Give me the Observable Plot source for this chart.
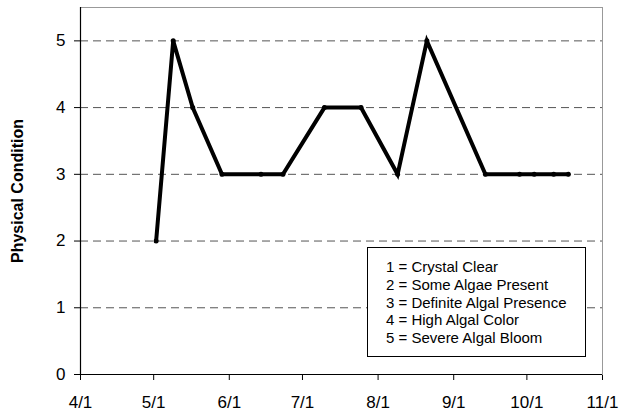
<!DOCTYPE html>
<html>
<head>
<meta charset="utf-8">
<script src="https://cdn.jsdelivr.net/npm/d3@7"></script>
<script src="https://cdn.jsdelivr.net/npm/@observablehq/plot@0.6"></script>
<style>
  html, body { margin: 0; padding: 0; background: #fff; }
  #wrap { position: relative; width: 636px; height: 414px; font-family: "Liberation Sans", Arial, sans-serif; }
  #legend {
    position: absolute; left: 367px; top: 247px; width: 219px; height: 110px;
    box-sizing: border-box; border: 1.5px solid #000; background: #fff;
    padding: 10px 0 0 18px; font-size: 15px; line-height: 17.8px; color: #000;
  }
</style>
</head>
<body>
<div id="wrap"><div id="legend"></div></div>
<script>
// Sample dates (year arbitrary) and physical condition ratings
const dates = ["2005-05-02","2005-05-09","2005-05-17","2005-05-29","2005-06-14","2005-06-23",
               "2005-07-10","2005-07-25","2005-08-09","2005-08-21","2005-09-14","2005-09-28",
               "2005-10-04","2005-10-12","2005-10-18"];
const condition = [2, 5, 4, 3, 3, 3, 4, 4, 3, 5, 3, 3, 3, 3, 3];
const xTicks = ["2005-04-01","2005-05-01","2005-06-01","2005-07-01","2005-08-01","2005-09-01","2005-10-01","2005-11-01"];
const yTicks = [0, 1, 2, 3, 4, 5];
const gridValues = [1, 2, 3, 4, 5];
const yMax = 5.5;
const yTitle = "Physical Condition";
const legendLines = ["1 = Crystal Clear", "2 = Some Algae Present", "3 = Definite Algal Presence",
                     "4 = High Algal Color", "5 = Severe Algal Bloom"];

const data = dates.map((d, i) => ({date: new Date(d + "T00:00:00Z"), value: condition[i]}));
const tickDates = xTicks.map(d => new Date(d + "T00:00:00Z"));
const xDomain = [tickDates[0], tickDates[tickDates.length - 1]];

const chart = Plot.plot({
  width: 636, height: 414,
  marginLeft: 80, marginRight: 34, marginTop: 7, marginBottom: 40,
  style: {fontFamily: "Liberation Sans, Arial, sans-serif", fontSize: "17px", color: "#000", background: "#fff"},
  x: {type: "utc", domain: xDomain, ticks: tickDates, tickSize: 6, tickPadding: 15,
      tickFormat: d => `${d.getUTCMonth() + 1}/${d.getUTCDate()}`, label: null},
  y: {domain: [0, yMax], ticks: yTicks, tickSize: 6, tickPadding: 9, tickFormat: d => String(d), label: null},
  marks: [
    Plot.ruleY(gridValues, {stroke: "#555", strokeDasharray: "8,5", strokeWidth: 1}),
    Plot.frame({stroke: "#999", strokeWidth: 1}),
    Plot.ruleX([xDomain[0]], {stroke: "#000", strokeWidth: 1.2}),
    Plot.ruleY([0], {stroke: "#000", strokeWidth: 1.2}),
    Plot.line(data, {x: "date", y: "value", stroke: "#000", strokeWidth: 4, strokeLinejoin: "miter", strokeMiterlimit: 4}),
    Plot.dot(data, {x: "date", y: "value", r: 2.5, fill: "#000"}),
    Plot.text([yTitle], {text: d => d, frameAnchor: "left", textAnchor: "middle", dx: -63, rotate: -90,
      fontWeight: "bold", fontSize: 16, fill: "#000"})
  ]
});
document.getElementById("wrap").prepend(chart);
document.getElementById("legend").innerHTML = legendLines.map(s => `<div>${s}</div>`).join("");
</script>
</body>
</html>
